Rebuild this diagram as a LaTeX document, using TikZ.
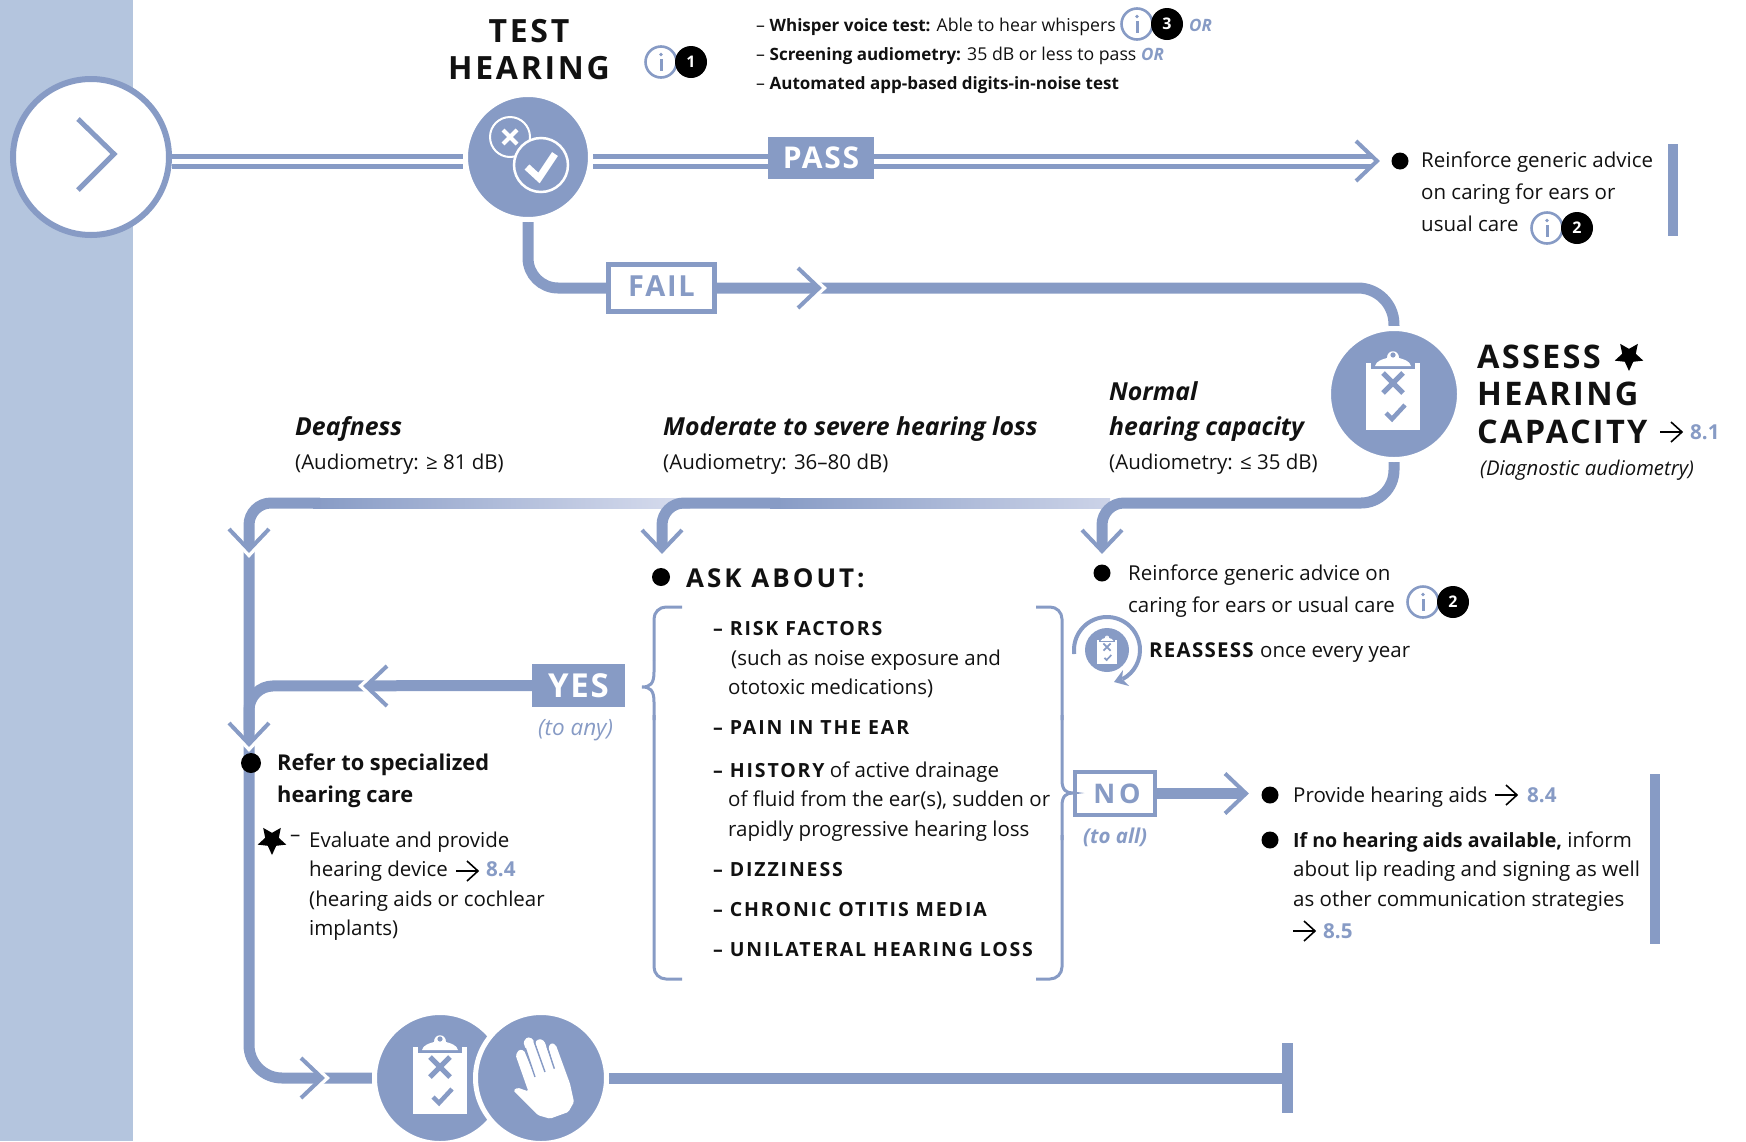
\documentclass[tikz,border=0pt]{standalone}
\usepackage{fontspec}
\setmainfont{Open Sans}
\usetikzlibrary{shapes.geometric,calc}
\definecolor{bl}{HTML}{879BC5}
\definecolor{side}{HTML}{B4C5DE}
\definecolor{pale}{HTML}{D8DDEE}
\definecolor{ink}{HTML}{111111}
\newcommand{\fs}[1]{\fontsize{#1}{#1}\selectfont}
\newcommand{\ls}[1]{\addfontfeatures{LetterSpace=#1}}
\newcommand{\semiit}{\bfseries\itshape}
\pgfdeclarelayer{bg}
\pgfsetlayers{bg,main}
\tikzset{
  x=1pt,y=-1pt,
  flow/.style={draw=bl,line width=11pt},
  dbl/.style={draw=bl,line width=5pt,double=white,double distance=5pt},
  tx/.style={anchor=base west,inner sep=0pt,text=ink},
  body/.style={tx,font=\fs{20.5}},
  top/.style={tx,font=\fs{17.7}},
  head/.style={tx,font=\bfseries\fs{32}\ls{8.5}},
  ahead/.style={tx,font=\bfseries\fs{32.5}\ls{7}},
  label/.style={tx,font=\semiit\fs{24.8}},
  caps/.style={tx,font=\bfseries\fs{19.5}\ls{9.5}},
  refn/.style={tx,font=\bfseries\fs{20.6},text=bl},
  orr/.style={tx,font=\semiit\fs{17},text=bl},
  dot/.style={circle,fill=black,inner sep=0pt,minimum size=#1},
  bigc/.style={circle,fill=bl,draw=white,line width=5pt,inner sep=0pt,minimum size=#1},
  starb/.style={star,star points=5,star point ratio=2.1,fill=black,inner sep=0pt,minimum size=30pt,rotate=180},
  pics/chev/.style={code={
    \draw[white,line width=6pt,miter limit=4] (-21,-20)--(0.5,0)--(-21,20);
    \draw[bl,line width=4pt,miter limit=4] (-24,-20)--(-3,0)--(-24,20);}},
  pics/blk/.style={code={
    \draw[black,line width=1.6pt] (0,0)--(22,0);
    \draw[black,line width=1.6pt] (11,-10)--(22,0)--(11,10);}},
  pics/info/.style={code={
    \draw[bl,line width=2.6pt,fill=white] (0,0) circle[radius=15.5pt];
    \fill[bl] (0,-7.5) circle[radius=1.8pt];
    \draw[bl,line width=3pt] (0,-3)--(0,9);
    \node[dot=32pt,text=white,font=\bfseries\fs{16}] (num) at (30,0) {#1};}},
  pics/clipb/.style={code={
    \fill[white] (-27,-31) rectangle (27,36);
    \fill[bl] (-22,-31) rectangle (22,-25);
    \fill[white] (-18,-28) .. controls (-17,-33) and (-10,-35) .. (-6,-36)
       .. controls (-6,-45) and (6,-45) .. (6,-36)
       .. controls (10,-35) and (17,-33) .. (18,-28) -- cycle;
    \fill[bl] (0,-39) circle[radius=#1*2.6pt];
    \draw[bl,line width=#1*5pt] (-10,-21)--(10,-1) (-10,-1)--(10,-21);
    \draw[bl,line width=#1*4.5pt] (-7,19)--(-1,25)--(12,11);}}
}
\begin{document}
\begin{tikzpicture}
\useasboundingbox (0,0) rectangle (1746,1141);
\begin{pgfonlayer}{bg}
\fill[side] (0,0) rectangle (133,1141);
\end{pgfonlayer}

% ---- main circles
\node[circle,fill=white,draw=bl,line width=6pt,inner sep=0pt,minimum size=156pt] (startc) at (91,157) {};
\draw[bl,line width=5pt,miter limit=4] (78,119)--(114,154)--(78,190);
\node[bigc=125pt] (testc) at (528,157) {};
\draw[white,line width=2pt] (510,137) circle[radius=20pt];
\draw[white,line width=4pt] (503,130)--(517,144) (503,144)--(517,130);
\draw[white,line width=2.5pt,fill=bl] (541,165) circle[radius=27pt];
\draw[white,line width=7pt] (527,167)--(539,178)--(555,154);
\node[bigc=131pt] (assess) at (1394,394) {};
\pic at (1393,394) {clipb=1};
\node[bigc=131pt] (cone) at (440,1078) {};
\pic at (440,1078) {clipb=1};
\node[bigc=131pt] (ctwo) at (541,1078) {};
\begin{scope}[shift={(540,1078)},scale=.3333]
\fill[white,rounded corners=1.5pt]
  (-80,37)--(-67,29)--(-35,40)--(-73,-68)--(-63,-85)--(-48,-83)--(-15,-3)--(-50,-108)--(-38,-123)--(-22,-118)
  --(15,-18)--(-15,-108)--(-2,-118)--(13,-111)--(43,-28)--(25,-93)--(35,-106)--(48,-98)--(90,17)--(102,72)
  --(85,102)--(30,122)--(-5,112)--cycle;
\draw[bl,line width=1.4pt] (-15,-3)--(-44,-90) (15,-18)--(-18,-110) (43,-28)--(21,-95);
\end{scope}

% ---- boxes
\node[fill=bl,inner sep=0pt,minimum width=106pt,minimum height=42pt,text=white,font=\bfseries\fs{30}\ls{6}] (pass) at (821,158) {\raisebox{-1pt}{PASS}};
\node[fill=white,draw=bl,line width=5pt,inner sep=0pt,minimum width=106pt,minimum height=47pt,text=bl,font=\bfseries\fs{29}\ls{6}] (fail) at (661.5,288) {\raisebox{3pt}{FAIL}};
\node[fill=bl,inner sep=0pt,minimum width=93pt,minimum height=43pt,text=white,font=\bfseries\fs{33}\ls{5}] (yes) at (578.5,685.5) {YES};
\node[fill=white,draw=bl,line width=4pt,inner sep=0pt,minimum width=80pt,minimum height=43pt,text=bl,font=\bfseries\fs{27}\ls{14}] (no) at (1115,793.5) {\hspace*{4pt}NO};
\node[dot=20pt] (refdot) at (251,763) {};
\node[inner sep=0pt,minimum width=11pt,minimum height=70pt,fill=bl] (tbar) at (1287.5,1078) {};

% ---- connectors
\coordinate (dy) at (0,161);
\coordinate (passtip) at (1376,161);
\coordinate (failc) at (528,288);
\coordinate (failr) at (1393,288);
\coordinate (rcor) at (1394,503);
\coordinate (rmid) at (1200,503);
\coordinate (rturn) at (1102,503);
\coordinate (rtip) at (1102,550);
\coordinate (mstart) at (780,503);
\coordinate (mturn) at (662,503);
\coordinate (mtip) at (662,550);
\coordinate (lstart) at (320,503);
\coordinate (lturn) at (249,503);
\coordinate (lmid) at (249,600);
\coordinate (lbot) at (249,1078);
\coordinate (ycor) at (249,686);
\coordinate (yend) at (249,730);
\coordinate (ntip) at (1243,793.5);
\begin{pgfonlayer}{bg}
\draw[dbl] (startc.east |- dy) -- (testc.west |- dy);
\draw[dbl] (testc.east |- dy) -- (pass.west |- dy);
\draw[dbl] (pass.east |- dy) -- (passtip);
\draw[flow,rounded corners=30pt] (testc.south) -- (failc) -- (fail.west);
\draw[flow,rounded corners=35pt] (fail.east) -- (failr) -- (assess.north);
\path[left color=bl,right color=pale] (313,498) rectangle (690,508);
\path[left color=bl,right color=pale!85!bl] (770,498) rectangle (1110,508);
\draw[flow,rounded corners=33pt] (assess.south) -- (rcor) -- (rmid) [rounded corners=22pt] -- (rturn) -- (rtip);
\draw[flow,rounded corners=22pt] (mstart) -- (mturn) -- (mtip);
\draw[flow,rounded corners=22pt] (lstart) -- (lturn) -- (lmid) [rounded corners=33pt] -- (lbot) -- (cone.west);
\draw[flow,rounded corners=24pt] (yes.west) -- (ycor) -- (yend);
\draw[flow] (ctwo.east) -- (tbar.west);
\draw[flow] (no.east) -- (ntip);
\end{pgfonlayer}
\pic at (1380,161) {chev};
\pic at (822,288) {chev};
\pic[rotate=-90] at (1102,554) {chev};
\pic[rotate=-90] at (662,554) {chev};
\pic[rotate=-90] at (249,553) {chev};
\pic[rotate=-90] at (249,747) {chev};
\pic[rotate=180] at (363,686) {chev};
\pic at (325,1078) {chev};
\pic at (1249,793.5) {chev};

% ---- brackets
\draw[bl,line width=3pt,rounded corners=12pt] (682,607)--(654,607)--(654,660);
\draw[bl,line width=3pt] (654,660)--(654,672) .. controls (654,684) and (650,687) .. (642,687) .. controls (650,687) and (654,690) .. (654,702)--(654,720);
\draw[bl,line width=3pt,rounded corners=12pt] (654,715)--(654,979)--(682,979);
\draw[bl,line width=3pt,rounded corners=12pt] (1036,607)--(1062,607)--(1062,720);
\draw[bl,line width=3pt] (1062,715)--(1062,780) .. controls (1062,790) and (1066,793) .. (1073,793) .. controls (1066,793) and (1062,796) .. (1062,806)--(1062,840);
\draw[bl,line width=3pt,rounded corners=12pt] (1062,835)--(1062,979)--(1036,979);

% ---- bars
\fill[bl] (1668,144) rectangle (1678,236);
\fill[bl] (1650,774) rectangle (1660,944);

% ---- test block
\node[head,anchor=base] (t1) at (529,42) {TEST};
\node[head,anchor=base] (t2) at (529,79) {HEARING};
\pic at (661,62) {info=1};
\node[top] (w1) at (756,31) {– {\bfseries\fs{17}Whisper voice test:} Able to hear whispers};
\pic at (1137,24) {info=3};
\node[orr] (or1) at (1189,31) {OR};
\node[top] (w2) at (756,60) {– {\bfseries\fs{17}Screening audiometry:} 35 dB or less to pass};
\node[orr] (or2) at (1141,60) {OR};
\node[top] (w3) at (756,89) {– {\bfseries\fs{17}Automated app-based digits-in-noise test}};

% ---- pass result
\node[dot=17pt] (b1) at (1400,161) {};
\node[body] (r1) at (1421,167) {Reinforce generic advice};
\node[body] (r2) at (1421,199) {on caring for ears or};
\node[body] (r3) at (1421,231) {usual care};
\pic at (1547,228) {info=2};

% ---- assess block
\node[ahead] (a1) at (1477,368) {ASSESS};
\node[starb] (s1) at (1629,356) {};
\node[ahead] (a2) at (1477,405) {HEARING};
\node[ahead] (a3) at (1477,443) {CAPACITY};
\pic at (1660,432) {blk};
\node[refn] (n81) at (1690,439) {8.1};
\node[tx,font=\itshape\fs{20.3}] (a4) at (1480,475) {(Diagnostic audiometry)};

% ---- outcome labels
\node[label] (d1) at (295,435) {Deafness};
\node[body] (d2) at (295,469) {(Audiometry: ≥ 81 dB)};
\node[label] (m1) at (663,435) {Moderate to severe hearing loss};
\node[body] (m2) at (663,469) {(Audiometry: 36–80 dB)};
\node[label] (h1) at (1109,400) {Normal};
\node[label] (h2) at (1109,435) {hearing capacity};
\node[body] (h3) at (1109,469) {(Audiometry: ≤ 35 dB)};

% ---- normal branch
\node[dot=17pt] (b2) at (1102,573) {};
\node[body] (n1) at (1128,580) {Reinforce generic advice on};
\node[body] (n2) at (1128,612) {caring for ears or usual care};
\pic at (1423,602) {info=2};
\node[circle,fill=bl,inner sep=0pt,minimum size=44pt] (re) at (1107,650) {};
\pic[scale=.36] at (1107,651) {clipb=.36};
\draw[bl,line width=4pt] (1107,650) ++(187:33pt) arc[start angle=187,end angle=-62,radius=33pt];
\fill[bl] (1114,682)--(1123,670)--(1122,679)--(1129,686)--cycle;
\node[body] (n3) at (1149,657) {\textbf{\ls{6}REASSESS} once every year};

% ---- ask about
\node[dot=18pt] (b3) at (661,577) {};
\node[tx,font=\bfseries\fs{26}\ls{11.5}] (ask) at (686,587) {ASK ABOUT:};
\node[caps] (l1) at (713,635) {– RISK FACTORS};
\node[body] (l1b) at (731,665) {(such as noise exposure and};
\node[body] (l1c) at (728,694) {ototoxic medications)};
\node[caps] (l2) at (713,734) {– PAIN IN THE EAR};
\node[body] (l3) at (713,777) {{\bfseries\fs{19.5}\ls{9.5}– HISTORY} of active drainage};
\node[body] (l3b) at (728,806) {of fluid from the ear(s), sudden or};
\node[body] (l3c) at (728,836) {rapidly progressive hearing loss};
\node[caps] (l4) at (713,876) {– DIZZINESS};
\node[caps] (l5) at (713,916) {– CHRONIC OTITIS MEDIA};
\node[caps] (l6) at (713,956) {– UNILATERAL HEARING LOSS};

% ---- yes / no labels
\node[tx,font=\itshape\fs{22.5},text=bl] (toany) at (538,735) {(to any)};
\node[tx,font=\semiit\fs{20.5},text=bl] (toall) at (1083,843) {(to all)};

% ---- refer block
\node[tx,font=\bfseries\fs{21.8}] (f1) at (277,770) {Refer to specialized};
\node[tx,font=\bfseries\fs{21.8}] (f2) at (277,802) {hearing care};
\node[starb] (s2) at (272,840) {};
\node[body] (f0) at (290,841) {–};
\node[body] (f3) at (309,847) {Evaluate and provide};
\node[body] (f4) at (309,876) {hearing device};
\pic at (456,871) {blk};
\node[refn] (n84a) at (486,876) {8.4};
\node[body] (f5) at (309,906) {(hearing aids or cochlear};
\node[body] (f6) at (309,935) {implants)};

% ---- no branch
\node[dot=17pt] (b4) at (1270,795) {};
\node[body] (g1) at (1293,802) {Provide hearing aids};
\pic at (1495,795) {blk};
\node[refn] (n84b) at (1527,802) {8.4};
\node[dot=17pt] (b5) at (1270,840) {};
\node[body] (g2) at (1293,847) {{\bfseries\fs{19.6}If no hearing aids available,} inform};
\node[body] (g3) at (1293,876) {about lip reading and signing as well};
\node[body] (g4) at (1293,906) {as other communication strategies};
\pic at (1293,931) {blk};
\node[refn] (n85) at (1323,938) {8.5};
\end{tikzpicture}
\end{document}
